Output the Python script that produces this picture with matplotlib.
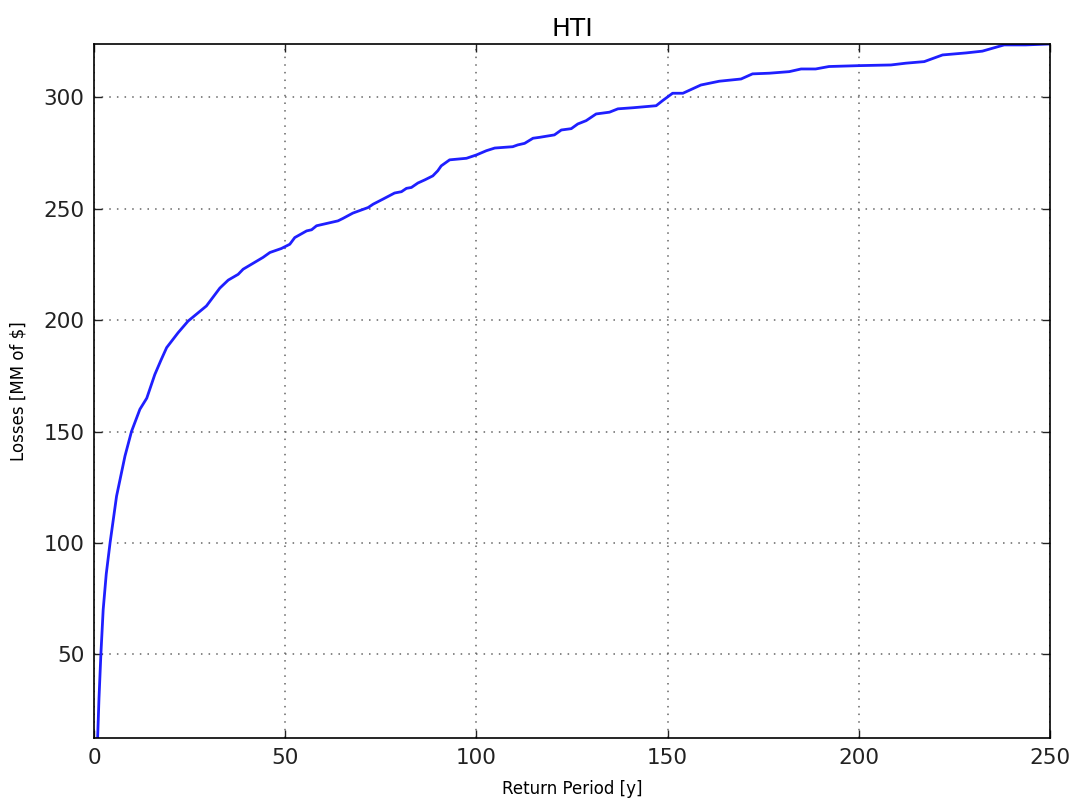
import matplotlib
matplotlib.use('Agg')
import matplotlib.pyplot as plt

# Return period [y] vs losses [MM of $]
return_period = [0.95, 1.3, 1.8, 2.4, 3.2, 4.2, 5.9, 8.1, 9.8, 12.0, 13.8, 15.9, 17.5,
                 19.0, 22.0, 24.6, 29.4, 32.9, 35.1, 37.7, 39.0, 44.2, 46.0, 49.0,
                 51.2, 52.5, 55.6, 56.9, 58.2, 63.8, 65.1, 67.7, 71.7, 73.0, 75.6,
                 78.6, 80.4, 81.7, 83.0, 84.7, 86.5, 88.6, 89.9, 90.8, 93.0, 97.4,
                 100.0, 102.6, 104.8, 109.5, 110.8, 112.6, 114.8, 116.5, 120.4,
                 122.2, 124.8, 126.5, 128.7, 131.3, 134.8, 137.0, 141.0, 147.0,
                 148.7, 151.3, 154.0, 158.7, 163.5, 169.2, 172.2, 176.6, 181.8,
                 184.9, 188.7, 192.2, 200.1, 208.4, 212.3, 217.1, 221.9, 228.0,
                 232.3, 238.0, 243.6, 249.7]
losses = [12.4, 30.0, 50.0, 70.0, 86.0, 100.0, 121.0, 139.0, 150.0, 160.0, 165.0,
          175.6, 182.0, 187.7, 194.4, 199.6, 206.4, 214.4, 218.0, 220.6, 222.9,
          228.2, 230.4, 232.2, 234.1, 237.1, 240.1, 240.6, 242.4, 244.6, 245.7,
          248.1, 250.6, 252.1, 254.4, 257.1, 257.7, 259.2, 259.6, 261.6, 263.0,
          264.8, 267.1, 269.3, 272.0, 272.7, 274.2, 276.1, 277.3, 277.9, 278.7,
          279.4, 281.7, 282.1, 283.2, 285.4, 286.0, 288.1, 289.6, 292.6, 293.4,
          294.9, 295.4, 296.3, 298.6, 301.9, 301.9, 305.6, 307.3, 308.3, 310.6,
          310.9, 311.6, 312.8, 312.8, 313.9, 314.3, 314.6, 315.4, 316.1, 319.1,
          320.0, 320.8, 323.6, 323.6, 324.0]

fig = plt.figure(figsize=(10.73, 7.99), dpi=100)
ax = fig.add_axes([0.0876, 0.0763, 0.891, 0.8686])

ax.plot(return_period, losses, color='#1f1fff', lw=2)

ax.set_xlim(0, 250)
ax.set_ylim(min(losses), max(losses))
ax.set_xticks([0, 50, 100, 150, 200, 250])
ax.set_yticks([50, 100, 150, 200, 250, 300])

ax.grid(True, color='0.4', linestyle=(0, (1, 4)), linewidth=1.1)
ax.tick_params(direction='in', top=True, right=True, length=6, width=1,
               labelsize=15.5, pad=7, colors='#222222')
for s in ax.spines.values():
    s.set_linewidth(1.2)

ax.set_title('HTI', fontsize=18, pad=6)
ax.set_xlabel('Return Period [y]', fontsize=12, labelpad=9)
ax.set_ylabel('Losses [MM of $]', fontsize=12, labelpad=11)

fig.savefig('out.png', dpi=100)
